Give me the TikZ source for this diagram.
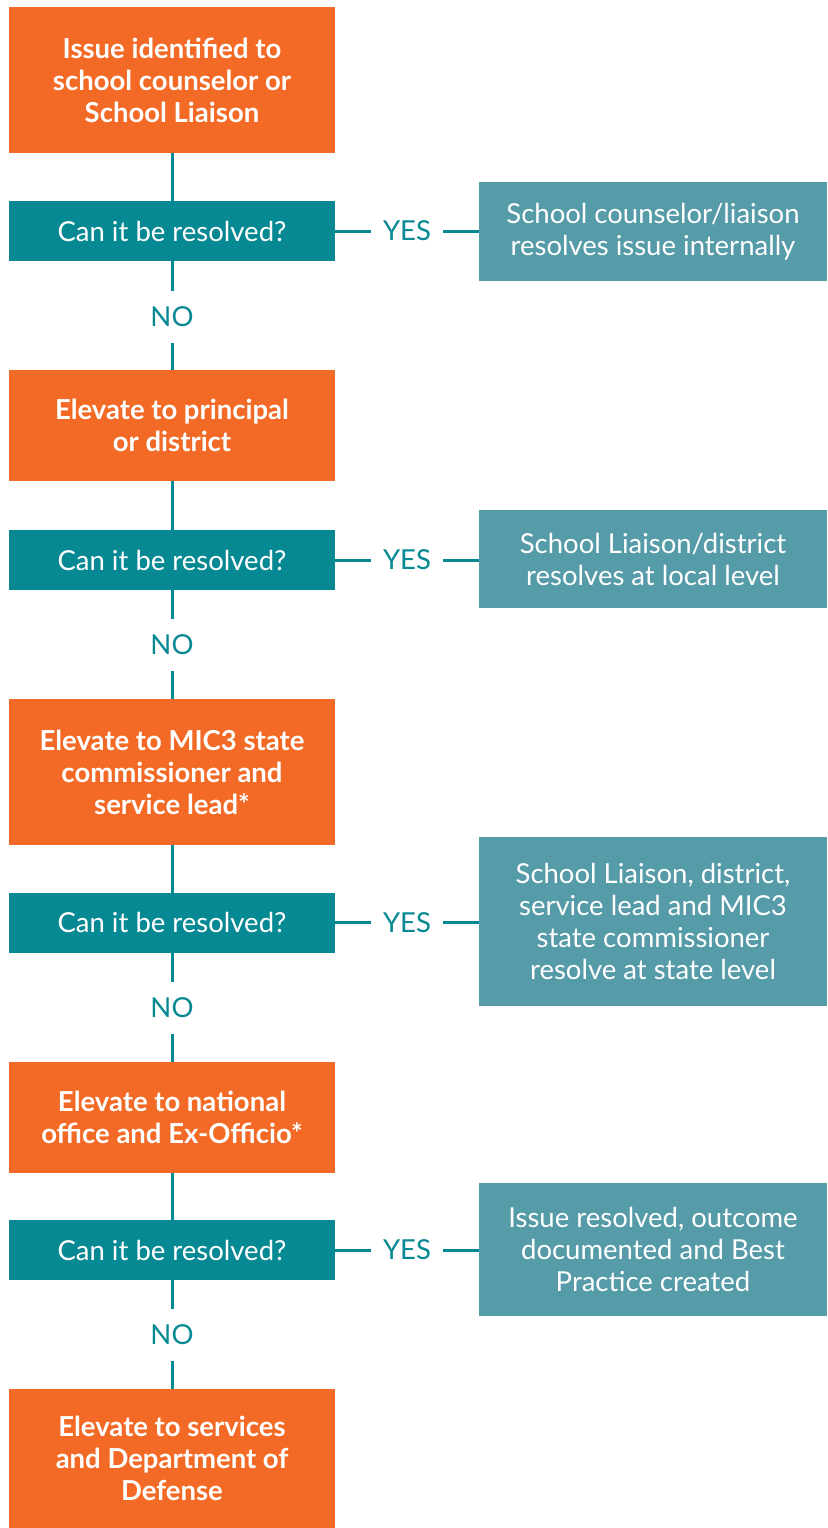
\documentclass[tikz,border=0pt]{standalone}
\usepackage{fontspec}
\setmainfont{Lato}
\begin{document}
\begin{tikzpicture}[x=1pt,y=-1pt,
  obox/.style={fill=orangeC, text=white, minimum width=326pt, inner sep=0pt, outer sep=0pt, align=center, font=\bfseries\fontsize{27.5}{32}\selectfont},
  tbox/.style={fill=tealC, text=white, minimum width=326pt, minimum height=60pt, inner sep=0pt, outer sep=0pt, align=center, font=\fontsize{27.5}{32}\selectfont},
  rbox/.style={fill=ltealC, text=white, minimum width=348pt, inner sep=0pt, outer sep=0pt, align=center, font=\fontsize{27.5}{32}\selectfont},
  lab/.style={text=tealC, inner sep=0pt, outer sep=0pt, font=\fontsize{27.5}{30}\selectfont},
  conn/.style={draw=tealC, line width=3pt}]
\definecolor{orangeC}{HTML}{F26A25}
\definecolor{tealC}{HTML}{078993}
\definecolor{ltealC}{HTML}{569BA8}
\useasboundingbox (0,0) rectangle (827,1528);
\fill[white] (0,0) rectangle (827,1528);

% column 1
\node[obox, minimum height=146pt] (o1) at (172,80) {Issue identified to\\school counselor or\\School Liaison};
\node[tbox] (t1) at (172,231) {Can it be resolved?};
\node[lab, minimum height=52pt] (n1) at (172,317) {NO};
\node[obox, minimum height=111pt] (o2) at (172,425.5) {Elevate to principal\\or district};
\node[tbox] (t2) at (172,560) {Can it be resolved?};
\node[lab, minimum height=52pt] (n2) at (172,645) {NO};
\node[obox, minimum height=146pt] (o3) at (172,772) {Elevate to MIC3 state\\commissioner and\\service lead*};
\node[tbox] (t3) at (172,922.5) {Can it be resolved?};
\node[lab, minimum height=52pt] (n3) at (172,1008) {NO};
\node[obox, minimum height=111pt] (o4) at (172,1117.5) {Elevate to national\\office and Ex-Officio*};
\node[tbox] (t4) at (172,1250) {Can it be resolved?};
\node[lab, minimum height=52pt] (n4) at (172,1335) {NO};
\node[obox, minimum height=139pt] (o5) at (172,1458.5) {Elevate to services\\and Department of\\Defense};

% right column
\node[rbox, minimum height=99pt] (r1) at (653,231.5) {School counselor/liaison\\resolves issue internally};
\node[rbox, minimum height=98pt] (r2) at (653,559) {School Liaison/district\\resolves at local level};
\node[rbox, minimum height=169pt] (r3) at (653,921.5) {School Liaison, district,\\service lead and MIC3\\state commissioner\\resolve at state level};
\node[rbox, minimum height=133pt] (r4) at (653,1249.5) {Issue resolved, outcome\\documented and Best\\Practice created};

% YES labels
\node[lab, minimum width=72pt] (y1) at (407,231) {YES};
\node[lab, minimum width=72pt] (y2) at (407,560) {YES};
\node[lab, minimum width=72pt] (y3) at (407,922.5) {YES};
\node[lab, minimum width=72pt] (y4) at (407,1250) {YES};

% connectors
\draw[conn] (o1.south) -- (t1.north);
\draw[conn] (t1.south) -- (n1.north);
\draw[conn] (n1.south) -- (o2.north);
\draw[conn] (o2.south) -- (t2.north);
\draw[conn] (t2.south) -- (n2.north);
\draw[conn] (n2.south) -- (o3.north);
\draw[conn] (o3.south) -- (t3.north);
\draw[conn] (t3.south) -- (n3.north);
\draw[conn] (n3.south) -- (o4.north);
\draw[conn] (o4.south) -- (t4.north);
\draw[conn] (t4.south) -- (n4.north);
\draw[conn] (n4.south) -- (o5.north);

\draw[conn] (t1.east) -- (y1.west);
\draw[conn] (y1.east) -- (y1.east -| r1.west);
\draw[conn] (t2.east) -- (y2.west);
\draw[conn] (y2.east) -- (y2.east -| r2.west);
\draw[conn] (t3.east) -- (y3.west);
\draw[conn] (y3.east) -- (y3.east -| r3.west);
\draw[conn] (t4.east) -- (y4.west);
\draw[conn] (y4.east) -- (y4.east -| r4.west);
\end{tikzpicture}
\end{document}
